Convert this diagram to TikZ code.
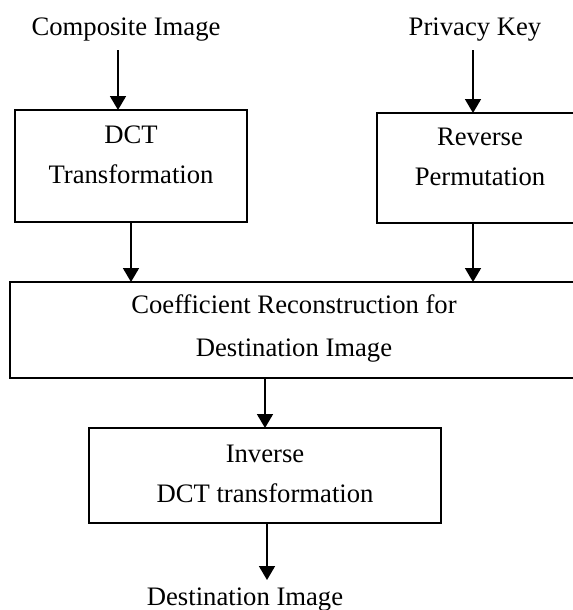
\documentclass[tikz,border=0pt]{standalone}
\usepackage{fontspec}
\setmainfont{Liberation Serif}
\usetikzlibrary{arrows.meta}
\begin{document}
\begin{tikzpicture}[x=0.75pt,y=-0.75pt,
  box/.style={draw,line width=1.5pt,inner sep=0pt,outer sep=0pt,rectangle},
  txt/.style={anchor=base,inner sep=0pt,font=\fontsize{20}{24}\selectfont},
  lbl/.style={txt,inner sep=6pt},
  arr/.style={line width=1.3pt,-{Triangle[width=12pt,length=10.5pt]}}]
\useasboundingbox (0,0) rectangle (573,610);
\clip (0,0) rectangle (573,610);
\fill[white] (0,0) rectangle (573,610);
% boxes
\node[box,minimum width=174pt,minimum height=84pt] (dct) at (131,166) {};
\node[box,minimum width=167.25pt,minimum height=82.5pt] (rev) at (488.5,168) {};
\node[box,minimum width=442.5pt,minimum height=72pt] (coef) at (305,330) {};
\node[box,minimum width=264pt,minimum height=71.25pt] (inv) at (265,475.5) {};
% texts
\node[lbl] (ci) at (126,36) {Composite Image};
\node[lbl] (pk) at (475,36) {Privacy Key};
\node[txt] (dct1) at (131,143) {DCT};
\node[txt] (dct2) at (131,183) {Transformation};
\node[txt] (rev1) at (480,145) {Reverse};
\node[txt] (rev2) at (480,185) {Permutation};
\node[txt] (coef1) at (294,313) {Coefficient Reconstruction for};
\node[txt] (coef2) at (294,356) {Destination Image};
\node[txt] (inv1) at (265,462) {Inverse};
\node[txt] (inv2) at (265,502) {DCT transformation};
\node[txt] (dest) at (245,605) {Destination Image};
% arrow columns
\coordinate (xa) at (118,0);
\coordinate (xb) at (473,0);
\coordinate (xc) at (131,0);
\coordinate (xd) at (265,0);
\coordinate (xe) at (267,0);
\coordinate (de) at (267,580);
% connectors
\draw[arr] (ci.south -| xa) -- (dct.north -| xa);
\draw[arr] (pk.south -| xb) -- (rev.north -| xb);
\draw[arr] (dct.south -| xc) -- (coef.north -| xc);
\draw[arr] (rev.south -| xb) -- (coef.north -| xb);
\draw[arr] (coef.south -| xd) -- (inv.north -| xd);
\draw[arr] (inv.south -| xe) -- (de);
\end{tikzpicture}
\end{document}
